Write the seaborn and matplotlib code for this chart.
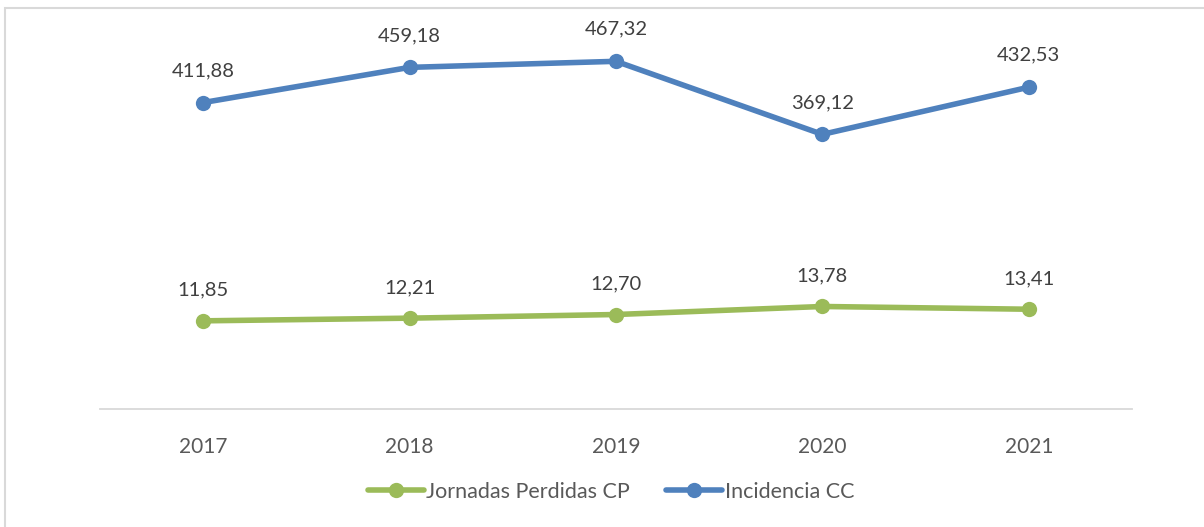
import matplotlib
matplotlib.use("Agg")
import matplotlib.pyplot as plt
import seaborn as sns
import pandas as pd
from matplotlib.lines import Line2D
from matplotlib.patches import Rectangle

years = ["2017", "2018", "2019", "2020", "2021"]
jornadas = [11.85, 12.21, 12.70, 13.78, 13.41]
incidencia = [411.88, 459.18, 467.32, 369.12, 432.53]

GREEN = "#9BBB59"
BLUE = "#4F81BD"
TXT = "#404040"
TICK = "#595959"

sns.set_theme(style="white")
plt.rcParams["font.family"] = ["Lato", "DejaVu Sans"]

W, H = 1204, 527
fig = plt.figure(figsize=(W / 100, H / 100), dpi=100)
left, right, top, bottom = 100, 1132, 37, 409
ax = fig.add_axes([left / W, 1 - bottom / H, (right - left) / W, (bottom - top) / H])
ax2 = ax.twinx()

df = pd.DataFrame({"x": range(len(years)), "j": jornadas, "i": incidencia})

sns.lineplot(data=df, x="x", y="j", ax=ax, color=GREEN, linewidth=4,
             marker="o", markersize=11, markeredgewidth=0, zorder=3)
sns.lineplot(data=df, x="x", y="i", ax=ax2, color=BLUE, linewidth=4,
             marker="o", markersize=11, markeredgewidth=0, zorder=3)

ax.set_ylim(0, 50)
ax2.set_ylim(0, 500)
for a in (ax, ax2):
    a.set_xlim(-0.5, len(years) - 0.5)
    a.set_yticks([])
    a.set_ylabel("")
    a.set_xlabel("")
    for s in a.spines.values():
        s.set_visible(False)
    a.patch.set_alpha(0)

ax.spines["bottom"].set_visible(True)
ax.spines["bottom"].set_color("#D9D9D9")
ax.spines["bottom"].set_linewidth(1.3)
ax.set_xticks(range(len(years)))
ax.set_xticklabels(years, fontsize=15, color=TICK)
ax.tick_params(axis="x", length=0, pad=20)

def fmt(v):
    return f"{v:.2f}".replace(".", ",")

for i, v in enumerate(jornadas):
    ax.annotate(fmt(v), (i, v), xytext=(0, 22), textcoords="offset points",
                ha="center", va="center", fontsize=14.5, color=TXT)
for i, v in enumerate(incidencia):
    ax2.annotate(fmt(v), (i, v), xytext=(0, 23), textcoords="offset points",
                 ha="center", va="center", fontsize=14.5, color=TXT)

handles = [
    Line2D([], [], color=GREEN, lw=4, marker="o", markersize=11, markeredgewidth=0),
    Line2D([], [], color=BLUE, lw=4, marker="o", markersize=11, markeredgewidth=0),
]
fig.legend(handles, ["Jornadas Perdidas CP", "Incidencia CC"],
           loc="center", bbox_to_anchor=(611 / W, 1 - 492 / H), ncol=2,
           frameon=False, fontsize=15.5, labelcolor=TICK, handlelength=2.6,
           handletextpad=0.1, columnspacing=1.7)

fig.patches.append(Rectangle((5 / W, -0.1), 1.2, 1 - 7.5 / H + 0.1,
                             transform=fig.transFigure, fill=False,
                             edgecolor="#D9D9D9", linewidth=1.5))

fig.savefig("out.png", dpi=100, facecolor="white")
